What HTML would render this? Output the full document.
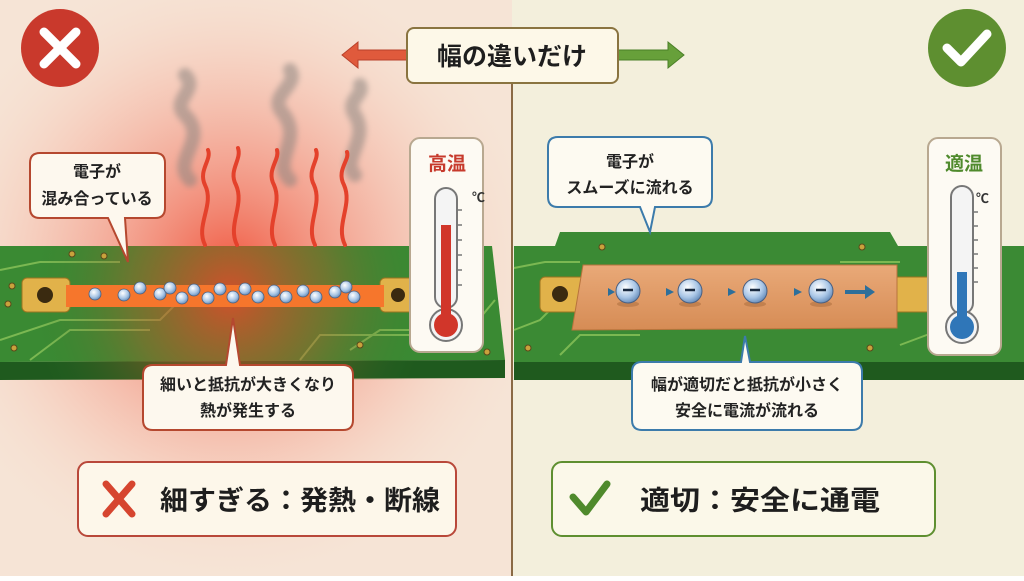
<!DOCTYPE html>
<html><head><meta charset="utf-8"><style>
html,body{margin:0;padding:0;}
body{width:1024px;height:576px;overflow:hidden;font-family:"Liberation Sans","Noto Sans CJK JP",sans-serif;}
svg text{font-family:"Liberation Sans","Noto Sans CJK JP",sans-serif;font-weight:bold;}
</style></head><body>
<svg width="1024" height="576" viewBox="0 0 1024 576" xmlns="http://www.w3.org/2000/svg">
<defs>
<radialGradient id="glow" cx="230" cy="270" r="320" gradientUnits="userSpaceOnUse">
<stop offset="0" stop-color="#f0523a" stop-opacity="0.95"/>
<stop offset="0.35" stop-color="#f27d68" stop-opacity="0.6"/>
<stop offset="0.7" stop-color="#f6c2b0" stop-opacity="0.4"/>
<stop offset="1" stop-color="#f8e6d6" stop-opacity="0"/>
</radialGradient>
<radialGradient id="boardglow" cx="230" cy="295" r="200" gradientUnits="userSpaceOnUse">
<stop offset="0" stop-color="#e14a2a" stop-opacity="0.9"/>
<stop offset="0.5" stop-color="#b85a2a" stop-opacity="0.4"/>
<stop offset="1" stop-color="#2f7a2d" stop-opacity="0"/>
</radialGradient>
<radialGradient id="el" cx="0.4" cy="0.35" r="0.7">
<stop offset="0" stop-color="#ffffff"/><stop offset="0.6" stop-color="#a9c6e6"/><stop offset="1" stop-color="#5f86b5"/>
</radialGradient>
<linearGradient id="cu" x1="0" y1="0" x2="0" y2="1">
<stop offset="0" stop-color="#e9a978"/><stop offset="1" stop-color="#d68c55"/>
</linearGradient>
<filter id="blur"><feGaussianBlur stdDeviation="3"/></filter>
</defs>
<rect width="1024" height="576" fill="#f3efdc"/>
<rect width="512" height="576" fill="#f6e4d6"/>
<rect width="512" height="576" fill="url(#glow)"/>
<line x1="512" y1="83" x2="512" y2="576" stroke="#8a6a45" stroke-width="2"/>

<!-- LEFT BOARD -->
<polygon points="0,246 492,246 505,360 0,362" fill="#3a8a33"/>
<polygon points="0,362 505,360 505,378 0,380" fill="#1f5a1e"/>
<g stroke="#8cc45a" stroke-width="2" fill="none" opacity="0.8">
<path d="M0,270 L40,262 L120,262"/><path d="M0,340 L60,320 L160,320 L180,300"/>
<path d="M30,360 L70,330 L150,330"/><path d="M300,360 L320,335 L420,335 L450,300"/>
<path d="M420,262 L480,262"/><path d="M350,350 L380,330 L470,330 L495,300"/>
</g>
<rect x="0" y="246" width="505" height="134" fill="url(#boardglow)"/>
<g fill="#c9a23c" stroke="#5a4a1a" stroke-width="1">
<circle cx="72" cy="254" r="3"/><circle cx="104" cy="256" r="3"/><circle cx="12" cy="286" r="3"/><circle cx="8" cy="304" r="3"/><circle cx="14" cy="348" r="3"/><circle cx="360" cy="345" r="3"/><circle cx="487" cy="352" r="3"/>
</g>
<rect x="22" y="278" width="48" height="34" rx="5" fill="#e1b24a" stroke="#9a7420"/>
<circle cx="45" cy="295" r="8" fill="#3a2a10"/>
<rect x="380" y="278" width="40" height="34" rx="5" fill="#e1b24a" stroke="#9a7420"/>
<circle cx="398" cy="295" r="7" fill="#3a2a10"/>
<rect x="66" y="285" width="318" height="22" fill="#f06a24"/>
<rect x="66" y="285" width="318" height="22" fill="#ff8a3a" opacity="0.4"/>
<g stroke="#4a5f80" stroke-width="0.8">
<circle cx="95" cy="294" r="6" fill="url(#el)"/><circle cx="124" cy="295" r="6" fill="url(#el)"/><circle cx="140" cy="288" r="6" fill="url(#el)"/>
<circle cx="160" cy="294" r="6" fill="url(#el)"/><circle cx="170" cy="288" r="6" fill="url(#el)"/><circle cx="182" cy="298" r="6" fill="url(#el)"/>
<circle cx="194" cy="290" r="6" fill="url(#el)"/><circle cx="208" cy="298" r="6" fill="url(#el)"/><circle cx="220" cy="289" r="6" fill="url(#el)"/>
<circle cx="233" cy="297" r="6" fill="url(#el)"/><circle cx="245" cy="289" r="6" fill="url(#el)"/><circle cx="258" cy="297" r="6" fill="url(#el)"/>
<circle cx="274" cy="291" r="6" fill="url(#el)"/><circle cx="286" cy="297" r="6" fill="url(#el)"/><circle cx="303" cy="291" r="6" fill="url(#el)"/>
<circle cx="316" cy="297" r="6" fill="url(#el)"/><circle cx="335" cy="292" r="6" fill="url(#el)"/><circle cx="346" cy="287" r="6" fill="url(#el)"/><circle cx="354" cy="297" r="6" fill="url(#el)"/>
</g>
<g fill="none" stroke="#8d8580" stroke-width="14" stroke-linecap="round" opacity="0.55" filter="url(#blur)">
<path d="M190,180 C170,160 210,140 185,115 C170,100 200,90 185,75"/>
<path d="M290,180 C270,160 305,140 282,112 C268,95 300,85 290,70"/>
<path d="M355,175 C340,160 370,140 355,115 C345,100 365,95 360,85"/>
</g>
<g fill="none" stroke="#e4412b" stroke-width="4" stroke-linecap="round">
<path d="M205,245 C195,225 215,205 205,185 C198,170 212,160 208,150"/>
<path d="M237,245 C227,225 245,205 236,185 C228,170 242,160 238,148"/>
<path d="M275,245 C265,225 283,205 274,185 C266,170 280,160 277,150"/>
<path d="M315,245 C305,225 323,205 314,185 C306,170 320,160 316,150"/>
<path d="M345,245 C335,225 353,205 344,185 C336,170 350,160 347,152"/>
</g>
<path d="M40,153 H155 Q165,153 165,163 V208 Q165,218 155,218 H125 L128,262 L108,218 H40 Q30,218 30,208 V163 Q30,153 40,153 Z" fill="#fdf8ee" stroke="#b5482f" stroke-width="2"/>
<text x="97" y="177" font-size="16" text-anchor="middle" fill="#222">電子が</text>
<text x="97" y="204" font-size="16" text-anchor="middle" fill="#222">混み合っている</text>
<path d="M153,365 H226 L233,318 L240,365 H343 Q353,365 353,375 V420 Q353,430 343,430 H153 Q143,430 143,420 V375 Q143,365 153,365 Z" fill="#fdf8ee" stroke="#b5482f" stroke-width="2"/>
<text x="248" y="390" font-size="16" text-anchor="middle" fill="#222">細いと抵抗が大きくなり</text>
<text x="248" y="416" font-size="16" text-anchor="middle" fill="#222">熱が発生する</text>
<rect x="410" y="138" width="73" height="214" rx="10" fill="#fdfaf3" stroke="#b8a890" stroke-width="2"/>
<text x="447" y="170" font-size="19" text-anchor="middle" fill="#c73a2c">高温</text>
<text x="472" y="202" font-size="13" fill="#333" font-weight="normal">℃</text>
<rect x="435" y="188" width="22" height="120" rx="11" fill="#f4f4f4" stroke="#777" stroke-width="2"/>
<circle cx="446" cy="325" r="16" fill="#f4f4f4" stroke="#777" stroke-width="2"/>
<rect x="441" y="225" width="10" height="95" fill="#d1362a"/>
<circle cx="446" cy="325" r="12" fill="#d1362a"/>
<g stroke="#777" stroke-width="1.5"><line x1="457" y1="210" x2="462" y2="210"/><line x1="457" y1="225" x2="462" y2="225"/><line x1="457" y1="240" x2="462" y2="240"/><line x1="457" y1="255" x2="462" y2="255"/><line x1="457" y1="270" x2="462" y2="270"/><line x1="457" y1="285" x2="462" y2="285"/></g>

<!-- RIGHT BOARD -->
<polygon points="514,246 555,246 560,232 890,232 898,246 1024,246 1024,362 514,362" fill="#3b8a34"/>
<polygon points="514,362 1024,362 1024,380 514,380" fill="#1f5a1e"/>
<g stroke="#8cc45a" stroke-width="2" fill="none" opacity="0.8">
<path d="M514,268 L545,262 L580,262"/><path d="M514,330 L540,320 L560,300"/>
<path d="M840,262 L900,262"/><path d="M900,345 L940,330"/><path d="M560,355 L580,335 L640,335"/>
</g>
<g fill="#c9a23c" stroke="#5a4a1a" stroke-width="1">
<circle cx="602" cy="247" r="3"/><circle cx="862" cy="247" r="3"/><circle cx="528" cy="348" r="3"/><circle cx="870" cy="348" r="3"/>
</g>
<rect x="540" y="277" width="45" height="35" rx="5" fill="#e1b24a" stroke="#9a7420"/>
<circle cx="560" cy="294" r="8" fill="#3a2a10"/>
<rect x="893" y="277" width="40" height="35" rx="5" fill="#e1b24a" stroke="#9a7420"/>
<polygon points="583,265 897,265 897,328 572,330" fill="url(#cu)" stroke="#b8743c"/>
<g fill="#2d6f9a">
<path d="M598,292 h10 v-4 l7,4 l-7,4 v-4 z"/><path d="M652,292 h14 v-4 l8,4 l-8,4 v-4 z"/>
<path d="M714,292 h14 v-4 l8,4 l-8,4 v-4 z"/><path d="M780,292 h14 v-4 l8,4 l-8,4 v-4 z"/>
<path d="M845,290 h20 v-5 l10,7 l-10,7 v-5 h-20 z"/>
</g>
<g stroke="#4a5f80" stroke-width="1">
<ellipse cx="628" cy="304" rx="11" ry="3" fill="#a86a3a" opacity="0.5" stroke="none"/>
<ellipse cx="690" cy="304" rx="11" ry="3" fill="#a86a3a" opacity="0.5" stroke="none"/>
<ellipse cx="755" cy="304" rx="11" ry="3" fill="#a86a3a" opacity="0.5" stroke="none"/>
<ellipse cx="821" cy="304" rx="11" ry="3" fill="#a86a3a" opacity="0.5" stroke="none"/>
<circle cx="628" cy="291" r="12" fill="url(#el)"/><circle cx="690" cy="291" r="12" fill="url(#el)"/>
<circle cx="755" cy="291" r="12" fill="url(#el)"/><circle cx="821" cy="291" r="12" fill="url(#el)"/>
</g>
<g stroke="#1a2a40" stroke-width="2.5"><line x1="623" y1="290" x2="633" y2="290"/><line x1="685" y1="290" x2="695" y2="290"/><line x1="750" y1="290" x2="760" y2="290"/><line x1="816" y1="290" x2="826" y2="290"/></g>
<path d="M558,137 H702 Q712,137 712,147 V197 Q712,207 702,207 H655 L650,232 L640,207 H558 Q548,207 548,197 V147 Q548,137 558,137 Z" fill="#fdfaf1" stroke="#3c7bab" stroke-width="2"/>
<text x="630" y="167" font-size="16" text-anchor="middle" fill="#222">電子が</text>
<text x="630" y="193" font-size="16" text-anchor="middle" fill="#222">スムーズに流れる</text>
<path d="M642,362 H741 L745,336 L750,362 H852 Q862,362 862,372 V420 Q862,430 852,430 H642 Q632,430 632,420 V372 Q632,362 642,362 Z" fill="#fdfaf1" stroke="#3c7bab" stroke-width="2"/>
<text x="747" y="390" font-size="16" text-anchor="middle" fill="#222">幅が適切だと抵抗が小さく</text>
<text x="747" y="416" font-size="16" text-anchor="middle" fill="#222">安全に電流が流れる</text>
<rect x="928" y="138" width="73" height="217" rx="10" fill="#fdfaf3" stroke="#b8a890" stroke-width="2"/>
<text x="964" y="170" font-size="19" text-anchor="middle" fill="#4f8a2c">適温</text>
<text x="976" y="203" font-size="13" fill="#333" font-weight="normal">℃</text>
<rect x="951" y="186" width="22" height="128" rx="11" fill="#f4f4f4" stroke="#777" stroke-width="2"/>
<circle cx="962" cy="327" r="16" fill="#f4f4f4" stroke="#777" stroke-width="2"/>
<rect x="957" y="272" width="10" height="50" fill="#2f76b8"/>
<circle cx="962" cy="327" r="12" fill="#2f76b8"/>
<g stroke="#777" stroke-width="1.5"><line x1="973" y1="212" x2="978" y2="212"/><line x1="973" y1="226" x2="978" y2="226"/><line x1="973" y1="240" x2="978" y2="240"/><line x1="973" y1="254" x2="978" y2="254"/><line x1="973" y1="268" x2="978" y2="268"/><line x1="973" y1="282" x2="978" y2="282"/></g>

<!-- TOP -->
<circle cx="60" cy="48" r="39" fill="#c9392c"/>
<g stroke="#fff" stroke-width="9" stroke-linecap="round"><line x1="44" y1="32" x2="76" y2="64"/><line x1="76" y1="32" x2="44" y2="64"/></g>
<circle cx="967" cy="48" r="39" fill="#5e8f30"/>
<path d="M947,48 L961,62 L987,34" fill="none" stroke="#fff" stroke-width="9" stroke-linecap="round" stroke-linejoin="round"/>
<path d="M408,50 H358 V42 L342,55 L358,68 V60 H408 Z" fill="#e05a3c" stroke="#b8402a"/>
<path d="M616,50 H668 V42 L684,55 L668,68 V60 H616 Z" fill="#67a03a" stroke="#4a7f27"/>
<rect x="407" y="28" width="211" height="55" rx="7" fill="#fdf8e8" stroke="#8a7440" stroke-width="2"/>
<text x="512" y="65" font-size="25" text-anchor="middle" fill="#1e1e1e">幅の違いだけ</text>

<!-- BOTTOM -->
<rect x="78" y="462" width="378" height="74" rx="10" fill="#fdf7ea" stroke="#b9483a" stroke-width="2"/>
<g stroke="#d6452f" stroke-width="7" stroke-linecap="round"><line x1="106" y1="484" x2="132" y2="514"/><line x1="132" y1="484" x2="106" y2="514"/></g>
<text x="160" y="510" font-size="27" fill="#1e1e1e" textLength="280" lengthAdjust="spacingAndGlyphs">細すぎる：発熱・断線</text>
<rect x="552" y="462" width="383" height="74" rx="10" fill="#fbf8e9" stroke="#5e8f30" stroke-width="2"/>
<path d="M573,497 L586,512 L607,484" fill="none" stroke="#4f8a2c" stroke-width="7" stroke-linecap="round" stroke-linejoin="round"/>
<text x="640" y="510" font-size="27" fill="#1e1e1e" textLength="240" lengthAdjust="spacingAndGlyphs">適切：安全に通電</text>
</svg>
</body></html>
